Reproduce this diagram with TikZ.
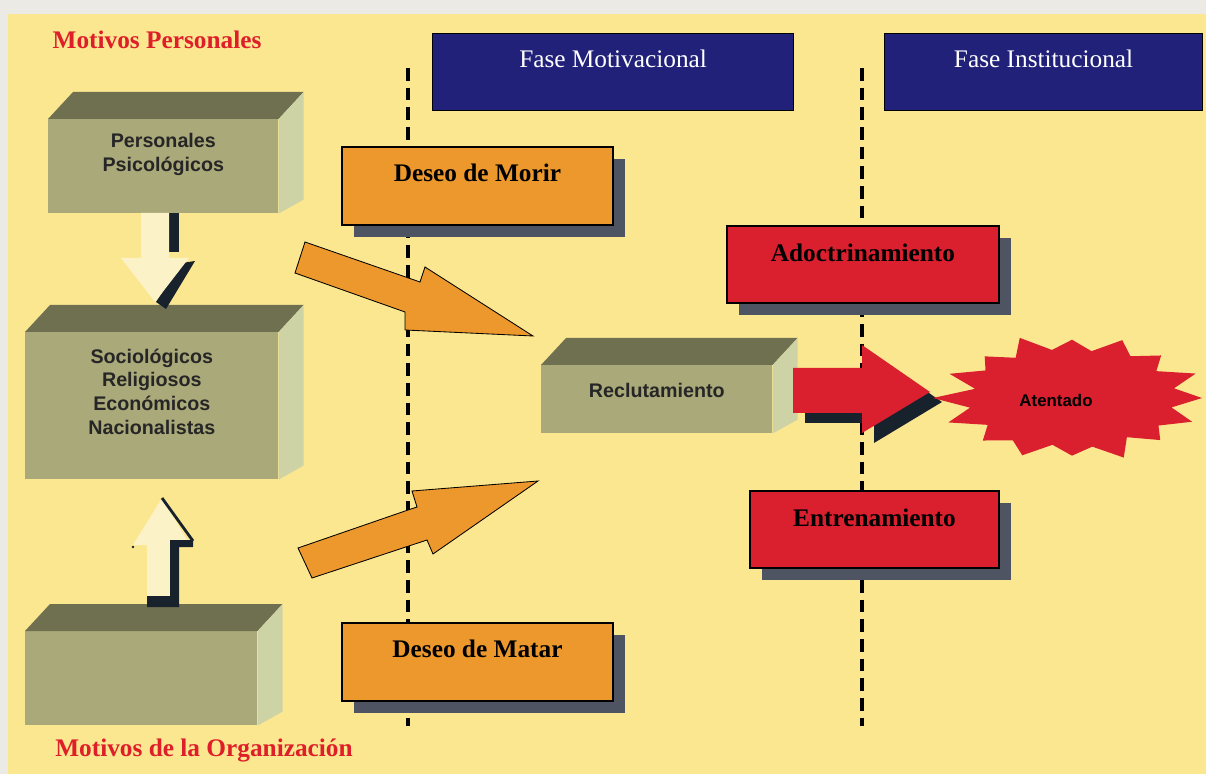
\documentclass[tikz,border=0pt]{standalone}
\usepackage{fontspec}
\setmainfont{Liberation Serif}
\setsansfont{Liberation Sans}
\usetikzlibrary{shadows}
\definecolor{panelyellow}{RGB}{252,231,145}
\definecolor{photogray}{RGB}{236,234,229}
\definecolor{phasenavy}{RGB}{33,33,122}
\definecolor{wishorange}{RGB}{236,152,44}
\definecolor{stagered}{RGB}{218,32,46}
\definecolor{shadowgray}{RGB}{78,84,98}
\definecolor{cubefront}{RGB}{170,169,122}
\definecolor{cubetop}{RGB}{110,112,80}
\definecolor{cubeside}{RGB}{206,211,165}
\definecolor{titlered}{RGB}{222,30,40}
\definecolor{inkdark}{RGB}{24,34,44}
\definecolor{ghost}{RGB}{252,242,200}
\begin{document}
\begin{tikzpicture}[x=0.025cm, y=-0.025cm,
    phase/.style={rectangle, draw=black, line width=0.8pt, fill=phasenavy, anchor=north west,
                  inner sep=0pt, text height=0.84cm, text depth=1.085cm,
                  font=\fontsize{18}{20}\selectfont, text=white},
    wish/.style={rectangle, draw=black, line width=1.3pt, fill=wishorange, anchor=north west,
                 inner sep=0pt, text height=0.86cm, text depth=1.1cm,
                 font=\fontsize{18}{20}\selectfont\bfseries,
                 general shadow={fill=shadowgray, shadow xshift=0.29cm, shadow yshift=-0.29cm}},
    stage/.style={wish, fill=stagered, text height=0.88cm, text depth=1.045cm},
    cube/.style={rectangle, fill=cubefront, anchor=north west, inner sep=0pt},
    cubetext/.style={font=\sffamily\bfseries\fontsize{14}{17}\selectfont, align=center, text=black!85},
    title/.style={font=\fontsize{18}{20}\selectfont\bfseries, text=titlered},
    blockarr/.style={fill=wishorange, draw=black, line width=0.6pt, line join=miter},
    sep/.style={line width=2.8pt, dash pattern=on 9pt off 5pt}
]
\useasboundingbox (0,0) rectangle (1206,774);

% Background
\fill[photogray] (0,0) rectangle (1206,774);
\fill[panelyellow] (8,14) rectangle (1206,774);

% Phase separators
\draw[sep] (408,68) -- (408,726);
\draw[sep] (862,68) -- (862,726);

% Phase headers
\node[phase, minimum width=9.025cm] (motiv) at (432,33) {Fase Motivacional};
\node[phase, minimum width=7.95cm] (inst) at (884,33) {Fase Institucional};

% Motive cubes
\node[cube, minimum width=5.75cm, minimum height=2.35cm] (pers) at (48,119) {};
\node[cube, minimum width=6.325cm, minimum height=3.675cm] (soc) at (25,332) {};
\node[cube, minimum width=5.8cm, minimum height=2.35cm] (org) at (25,631) {};
\node[cube, minimum width=5.775cm, minimum height=1.7cm] (recl) at (541,365) {};
\foreach \c in {pers, soc, org, recl} {
  \fill[cubetop] (\c.north west) -- ++(25,-27) -- ([shift={(25,-27)}]\c.north east) -- (\c.north east) -- cycle;
  \fill[cubeside] (\c.north east) -- ++(25,-27) -- ([shift={(25,-14)}]\c.south east) -- (\c.south east) -- cycle;
}
\node[cubetext, yshift=0.3cm] (persT) at (pers) {Personales\\Psicológicos};
\node[cubetext, yshift=0.35cm] (socT) at (soc) {Sociológicos\\Religiosos\\Económicos\\Nacionalistas};
\node[cubetext, yshift=0.22cm] (reclT) at (recl) {Reclutamiento};

% Arrows between cubes
\fill[inkdark] (169,213) rectangle (179,252);
\fill[inkdark] (182,263) -- (195,261) -- (166,309) -- (156,302) -- cycle;
\fill[ghost] (141,213) -- (169,213) -- (169,258) -- (189,258) -- (155,302) -- (121,258) -- (141,258) -- cycle;

\fill[ghost] (147,596) -- (170,596) -- (170,545) -- (190,545) -- (162,498) -- (133,545) -- (147,545) -- cycle;
\fill[inkdark] (170,540) -- (193,540) -- (193,547) -- (179,547) -- (179,607) -- (147,607) -- (147,596) -- (170,596) -- cycle;
\draw[inkdark, line width=2pt] (162,498) -- (193,541);
\fill[inkdark] (133,547) circle (1pt);

% Wishes
\node[wish, minimum width=6.775cm] (morir) at (341,146) {Deseo de Morir};
\node[wish, minimum width=6.775cm] (matar) at (341,622) {Deseo de Matar};

% Block arrows into recruitment
\filldraw[blockarr] (305,242) -- (420,282) -- (425,267) -- (533,336) -- (405,330) -- (405,312) -- (295,273) -- cycle;
\filldraw[blockarr] (298,548) -- (408,510) -- (417,507) -- (412,491) -- (538,481) -- (433,554) -- (427,540) -- (312,578) -- cycle;

% Institutional stages
\node[stage, minimum width=6.8cm] (adoc) at (726,225) {Adoctrinamiento};
\node[stage, minimum width=6.225cm] (entr) at (749,490) {Entrenamiento};

% Arrow to attack
\fill[inkdark, shift={(12,10)}] (793,368) -- (862,368) -- (862,345) -- (930,392) -- (862,433) -- (862,413) -- (793,413) -- cycle;
\fill[stagered] (793,368) -- (862,368) -- (862,345) -- (930,392) -- (862,433) -- (862,413) -- (793,413) -- cycle;

% Attack burst
\coordinate (burst) at (1072,398);
\fill[stagered, shift={(burst)}] (0:130 and 62)
  \foreach \r [count=\i] in {.78,1.0,.8,.96,.76,1.04,.8,.93,.77,1.0,.82,.97,.78,1.03,.8,1.07,
                            .76,1.02,.8,.95,.78,1.05,.79,.94,.77,1.01,.81,.97,.78,1.03,.8,1.0}
  { -- ({\i*11.25}:{\r*130} and {\r*62}) } -- cycle;
\node[font=\sffamily\bfseries\fontsize{12}{14}\selectfont] (atent) at (1056,400) {Atentado};

% Titles
\node[title] (persTitle) at (157,40) {Motivos Personales};
\node[title] (orgTitle) at (204,750) {Motivos de la Organización};

\end{tikzpicture}
\end{document}
